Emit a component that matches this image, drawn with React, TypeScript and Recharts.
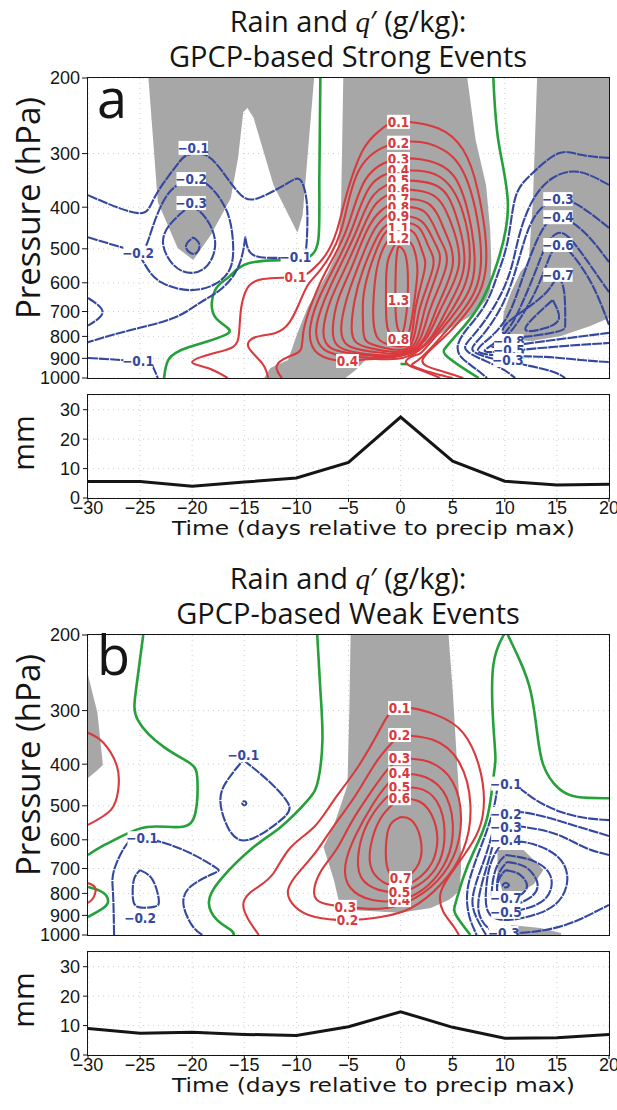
import React from "react";
import { ComposedChart, LineChart, Line, Area, Scatter, XAxis, YAxis, CartesianGrid } from "recharts";

// rain composites (mm), one value every 5 days
const days = [-30, -25, -20, -15, -10, -5, 0, 5, 10, 15, 20];
const strongRain = [5.6, 5.6, 4.0, 5.4, 6.8, 12.1, 27.5, 12.5, 5.7, 4.4, 4.7];
const weakRain = [9.0, 7.4, 7.7, 7.0, 6.6, 9.6, 14.7, 9.4, 5.7, 5.9, 7.0];

const dayTicks = [-30, -25, -20, -15, -10, -5, 0, 5, 10, 15, 20];
const pressureTicks = [200, 300, 400, 500, 600, 700, 800, 900, 1000];
const mmTicks = [0, 10, 20, 30];

// ---------- Strong events: contours of q' as [day, hPa] ----------
// shaded rain areas: [day, upper hPa, lower hPa]
const sGrayLeft = [[-24.2, 200, 200], [-23.3, 200, 389], [-21.4, 200, 498], [-19.9, 200, 531], [-18.2, 200, 464], [-16.3, 200, 381], [-15.6, 200, 307], [-15.1, 200, 240], [-14.7, 200, 235], [-14.1, 200, 248], [-12.2, 200, 355], [-9.9, 200, 459], [-9.4, 200, 417], [-8.3, 200, 200]];
const sGrayCenter = [[-13.1, 1000, 1000], [-12.5, 948, 1000], [-10.8, 908, 1000], [-9.9, 785, 1000], [-8.9, 683, 1000], [-7.0, 569, 1000], [-6.0, 503, 1000], [-5.7, 385, 1000], [-5.5, 200, 1000], [-5.3, 200, 1000], [-4.3, 200, 958], [-2.9, 200, 883], [0, 200, 860], [2.9, 200, 816], [5.8, 200, 740], [6.4, 200, 725], [7.2, 279, 702], [8.2, 355, 658], [8.6, 452, 624], [8.7, 531, 537]];
const sGrayRight = [[9.8, 752, 752], [9.9, 702, 803], [10.6, 631, 816], [11.5, 566, 816], [12.3, 537, 820], [12.7, 385, 820], [13.1, 200, 816], [15.4, 200, 798], [18.2, 200, 757], [20, 200, 725]];

const sGreen1 = [[-22.7, 1000], [-22.3, 908], [-20.3, 847], [-16.5, 785], [-17.8, 721], [-17.8, 624], [-16.5, 582], [-14.6, 540], [-10.7, 531], [-8.8, 522], [-7.9, 477], [-7.8, 346], [-7.7, 200]];
const sGreen2 = [[8.9, 200], [9.4, 282], [10.3, 395], [9.3, 537], [7.4, 687], [5.1, 807], [4.3, 851], [4.3, 883], [6.0, 948], [7.5, 1000]];
const sGreen3 = [[0, 928], [0.7, 928]];

const sRed01 = [[-16.6, 1000], [-18.5, 948], [-20.0, 918], [-18.2, 879], [-16.1, 847], [-15.5, 785], [-15.3, 687], [-14.7, 617], [-13.2, 588], [-10.1, 582], [-8.6, 563], [-7.2, 517], [-6.1, 452], [-5.2, 375], [-3.6, 294], [-1.9, 264], [-0.2, 253], [3.6, 262], [6.0, 294], [7.4, 365], [8.2, 545], [6.5, 695], [4.1, 807], [2.1, 908], [3.6, 958], [6.0, 1000]];
const sRed02 = [[-12.7, 1000], [-13.3, 923], [-14.6, 847], [-13.9, 803], [-12.0, 785], [-10.7, 744], [-9.8, 676], [-8.9, 607], [-7.7, 560], [-5.7, 452], [-4.0, 328], [-0.2, 283], [4.1, 294], [6.7, 365], [7.7, 545], [6.0, 695], [3.6, 816], [1.7, 908], [1.2, 938], [3.1, 973], [5.0, 1000]];
const sRed03 = [[-11.4, 1000], [-11.9, 938], [-10.8, 893], [-9.6, 860], [-9.3, 773], [-8.4, 658], [-7.1, 560], [-5.2, 452], [-3.4, 346], [-0.2, 309], [3.8, 319], [6.1, 381], [7.1, 545], [5.4, 695], [2.4, 851], [1.5, 883], [0.5, 918], [1.9, 958], [3.8, 1000]];
const sRed04 = [[-0.2, 328], [3.6, 338], [5.9, 406], [6.6, 545], [4.9, 695], [1.4, 874], [-2.4, 903], [-5.1, 913], [-7.9, 879], [-8.7, 773], [-7.9, 658], [-6.5, 560], [-4.7, 452], [-2.9, 357], [-0.2, 328]];
const sRed05 = [[-0.2, 346], [3.5, 357], [5.3, 417], [6.1, 545], [4.4, 695], [1.3, 869], [-4.4, 893], [-7.3, 860], [-8.1, 773], [-7.3, 658], [-6.0, 560], [-4.2, 452], [-2.6, 375], [-0.2, 346]];
const sRed06 = [[-0.2, 363], [3.1, 375], [4.8, 433], [5.6, 545], [3.8, 695], [1.2, 865], [-3.8, 883], [-6.7, 851], [-7.4, 773], [-6.7, 658], [-5.4, 560], [-3.7, 452], [-2.3, 391], [-0.2, 363]];
const sRed07 = [[-0.2, 383], [2.7, 393], [4.2, 452], [5.0, 545], [3.4, 695], [1.2, 860], [-3.3, 879], [-6.0, 842], [-6.5, 765], [-6.0, 658], [-4.8, 560], [-3.3, 457], [-1.9, 408], [-0.2, 383]];
const sRed08 = [[-0.2, 400], [2.3, 410], [3.7, 470], [4.4, 545], [2.8, 695], [1.1, 856], [-2.7, 869], [-5.1, 838], [-5.7, 765], [-5.2, 658], [-4.2, 560], [-2.8, 464], [-1.6, 424], [-0.2, 400]];
const sRed09 = [[-0.2, 420], [2.0, 431], [3.3, 485], [3.7, 545], [2.3, 695], [1.0, 851], [-2.1, 860], [-4.2, 829], [-4.7, 761], [-4.4, 658], [-3.6, 560], [-2.2, 467], [-1.3, 440], [-0.2, 420]];
const sRed10 = [[-0.2, 433], [1.7, 445], [2.7, 495], [3.1, 554], [1.8, 695], [0.9, 842], [-1.5, 851], [-3.3, 820], [-3.6, 752], [-3.6, 658], [-3.0, 560], [-1.9, 477], [-1.2, 452], [-0.2, 433]];
const sRed11 = [[-0.2, 447], [1.3, 459], [2.1, 509], [2.3, 560], [1.4, 695], [0.8, 829], [-1.0, 838], [-2.2, 807], [-2.6, 740], [-2.6, 658], [-2.3, 560], [-1.5, 490], [-0.2, 447]];
const sRed12 = [[-0.2, 472], [1.0, 485], [1.5, 525], [1.6, 575], [1.2, 695], [0.6, 807], [-0.4, 816], [-1.2, 773], [-1.4, 695], [-1.4, 607], [-1.2, 531], [-0.2, 472]];
const sRed13 = [[-0.2, 493], [0.5, 520], [0.7, 624], [0.4, 752], [0, 785], [-0.4, 740], [-0.5, 624], [-0.4, 525], [-0.2, 493]];

const sBlueTop = [[-30, 375], [-25.2, 413], [-23.6, 379], [-21.6, 322], [-20.4, 302], [-18.8, 302], [-17.2, 328], [-15.3, 375], [-13.4, 379], [-10.8, 351], [-9.6, 346], [-9.0, 391], [-9.0, 477], [-9.6, 522], [-12.0, 525], [-14.4, 511], [-14.9, 470], [-15.4, 537], [-17.1, 617], [-19.3, 669], [-21.8, 725], [-25.9, 773], [-30, 825]];
const sBlueMid = [[-30, 470], [-26.1, 501], [-25.2, 511], [-24.4, 551], [-23.0, 598], [-20.3, 624], [-17.8, 604], [-16.3, 551], [-16.1, 477], [-16.6, 413], [-17.8, 369], [-19.4, 346], [-21.4, 355], [-22.8, 389], [-23.8, 445], [-24.4, 490], [-25.0, 511]];
const sBlueIn = [[-20.1, 395], [-18.7, 424], [-17.8, 482], [-18.5, 545], [-20.1, 569], [-21.8, 545], [-22.8, 485], [-22.0, 435], [-20.1, 395]];
const sBlueCore = [[-19.9, 470], [-19.3, 490], [-19.8, 514], [-20.6, 495], [-19.9, 470]];
const sBlueEdge = [[-30, 651], [-28.6, 702], [-30, 755]];
const sBlueLow = [[-30, 898], [-25.2, 913], [-23.9, 930], [-23.3, 1000]];
const sBlueR1 = [[20, 307], [17.3, 302], [15.1, 300], [12.5, 336], [11.0, 381], [10.3, 477], [9.3, 575], [8.1, 676], [6.3, 773], [5.5, 838], [5.8, 893], [7.1, 948], [8.3, 1000]];
const sBlueR2 = [[20, 355], [17.1, 331], [14.6, 342], [12.7, 385], [11.4, 464], [10.5, 566], [9.0, 680], [7.1, 789], [6.2, 851], [7.5, 898], [9.6, 948], [11.0, 1000]];
const sBlueR3 = [[20, 447], [17.5, 402], [15.1, 383], [13.1, 413], [11.9, 477], [10.9, 575], [9.6, 687], [7.8, 798], [6.9, 860], [8.6, 898], [11.5, 928], [14.4, 963], [15.8, 1000]];
const sBlueR4 = [[20, 537], [17.6, 457], [15.1, 422], [13.6, 452], [12.5, 517], [11.4, 614], [10.1, 729], [8.3, 816], [7.5, 869], [10.1, 888], [13.9, 893], [17.3, 908], [20, 918]];
const sBlueR5 = [[20, 631], [17.3, 509], [15.4, 459], [14.0, 490], [13.0, 560], [11.8, 658], [10.6, 752], [9.0, 829], [8.2, 869], [11.5, 860], [15.8, 842], [20, 829]];
const sBlueR6 = [[20, 752], [18.4, 607], [16.5, 517], [15.1, 490], [14.1, 537], [13.0, 624], [11.5, 725], [9.9, 807], [8.9, 847], [12.5, 829], [16.8, 803], [20, 785]];
const sBlueR7 = [[15.1, 575], [15.7, 631], [15.8, 740], [14.9, 781], [11.0, 803], [9.9, 761], [12.0, 691], [14.0, 631], [15.1, 575]];
const sBlueR8 = [[14.6, 658], [15.2, 725], [13.9, 765], [12.0, 773], [13.0, 714], [14.6, 658]];

const sRedLabels: [number, number, string][] = [[-0.2, 253, "0.1"], [-0.2, 283, "0.2"], [-0.2, 309, "0.3"], [-0.2, 328, "0.4"], [-0.2, 346, "0.5"], [-0.2, 363, "0.6"], [-0.2, 383, "0.7"], [-0.2, 400, "0.8"], [-0.2, 420, "0.9"], [-0.2, 447, "1.1"], [-0.2, 472, "1.2"], [-0.2, 658, "1.3"], [-0.2, 811, "0.8"], [-10.1, 582, "0.1"], [-5.1, 913, "0.4"]];
const sBlueLabels: [number, number, string][] = [[-19.9, 291, "−0.1"], [-20.1, 344, "−0.2"], [-20.1, 391, "−0.3"], [-25.2, 511, "−0.2"], [-10.1, 522, "−0.1"], [-25.2, 913, "−0.1"], [15.1, 383, "−0.3"], [15.1, 422, "−0.4"], [15.1, 490, "−0.6"], [15.1, 575, "−0.7"], [10.4, 820, "−0.8"], [10.4, 860, "−0.5"], [10.3, 908, "−0.3"]];

// ---------- Weak events ----------
const wGrayLeft = [[-30, 248, 431], [-29.1, 303, 413], [-28.6, 395, 402]];
const wGrayCenter = [[-7.4, 624, 624], [-6.4, 554, 744], [-5.8, 503, 860], [-5.1, 447, 869], [-4.9, 283, 874], [-4.8, 200, 874], [0, 200, 888], [2.9, 200, 865], [4.6, 200, 829], [5.0, 269, 816], [5.4, 391, 798], [5.7, 511, 765], [5.8, 669, 706]];
const wGrayPatch = [[9.3, 634, 718], [9.9, 634, 816], [11.8, 634, 789], [12.8, 669, 761], [13.7, 706, 706]];
const wGrayBottom = [[10.6, 948, 1000], [13.4, 963, 1000], [15.4, 989, 1000]];

const wGreen1 = [[-24.7, 200], [-25.4, 269], [-25.2, 316], [-22.7, 365], [-20.2, 398], [-19.5, 435], [-19.7, 520], [-21.1, 560], [-24.3, 560], [-26.9, 591], [-28.8, 624], [-30, 651]];
const wGreen2 = [[-30, 773], [-28.5, 798], [-28.1, 842], [-28.8, 874], [-30, 908]];
const wGreen3 = [[-8.0, 200], [-7.7, 269], [-7.5, 351], [-7.9, 435], [-8.9, 485], [-11.5, 560], [-14.1, 624], [-17.3, 744], [-18.4, 842], [-17.6, 923], [-16.3, 973], [-16.0, 1000]];
const wGreen4 = [[20, 480], [17.0, 477], [15.1, 454], [13.7, 402], [13.1, 337], [12.5, 272], [11.5, 231], [10.3, 200], [9.9, 200], [8.9, 235], [8.9, 324], [9.1, 387], [8.9, 431], [8.3, 534], [7.0, 641], [6.0, 737], [5.3, 838], [5.3, 898], [6.7, 1000]];

const wRedEdge = [[-30, 338], [-28.5, 357], [-27.2, 406], [-27.1, 459], [-27.8, 511], [-30, 554]];
const wRedCorner = [[-30, 757], [-29.3, 777], [-29.5, 820], [-30, 842]];
const wRed01 = [[-13.6, 1000], [-15.1, 851], [-13.7, 773], [-12.2, 718], [-10.6, 627], [-8.3, 560], [-6.4, 485], [-4.1, 406], [-1.9, 329], [-0.1, 296], [3.4, 307], [6.0, 338], [7.5, 402], [8.0, 485], [7.5, 569], [6.1, 651], [4.6, 733], [3.8, 807], [4.1, 883], [5.0, 948], [5.6, 1000]];
const wRed02 = [[-0.1, 342], [3.1, 351], [5.6, 395], [6.7, 498], [6.0, 634], [3.8, 765], [1.0, 865], [-1.9, 908], [-5.1, 923], [-8.2, 908], [-10.1, 860], [-10.8, 785], [-9.6, 706], [-8.0, 634], [-6.2, 548], [-4.3, 472], [-2.2, 391], [-0.1, 342]];
const wRed03 = [[-0.1, 387], [2.7, 395], [5.0, 440], [5.8, 540], [5.0, 662], [2.9, 773], [-0.1, 851], [-2.9, 869], [-5.3, 860], [-7.5, 842], [-8.3, 798], [-7.7, 714], [-6.2, 634], [-4.6, 540], [-2.7, 459], [-1.3, 413], [-0.1, 387]];
const wRed04 = [[-0.1, 420], [2.4, 429], [4.4, 477], [5.0, 585], [4.0, 698], [2.1, 785], [-0.1, 829], [-2.7, 829], [-4.8, 777], [-5.3, 687], [-4.3, 585], [-2.7, 498], [-1.3, 447], [-0.1, 420]];
const wRed05 = [[-0.1, 452], [2.2, 459], [3.8, 506], [4.2, 601], [3.4, 698], [1.7, 765], [-0.1, 794], [-2.1, 785], [-3.8, 733], [-4.0, 634], [-3.1, 545], [-1.6, 485], [-0.1, 452]];
const wRed06 = [[-0.1, 480], [1.9, 490], [3.2, 540], [3.5, 617], [2.7, 698], [1.2, 752], [-0.1, 769], [-1.7, 752], [-2.9, 687], [-2.7, 595], [-1.7, 525], [-0.1, 480]];
const wRed07 = [[0, 531], [1.2, 545], [2.0, 617], [1.5, 698], [0, 737], [-1.2, 706], [-1.4, 617], [-1.0, 554], [0, 531]];

const wBlueMid = [[-15.1, 391], [-12.8, 435], [-10.8, 493], [-11.5, 540], [-14.7, 601], [-16.6, 560], [-17.3, 485], [-16.6, 435], [-15.1, 391]];
const wBlueDot = [[-15.0, 487], [-14.8, 493], [-15.0, 499], [-15.2, 493], [-15.0, 487]];
const wBlueLow = [[-27.5, 1000], [-27.6, 798], [-27.5, 706], [-26.2, 611], [-24.8, 595], [-23.0, 607], [-20.2, 644], [-17.8, 695], [-17.9, 718], [-20.2, 773], [-20.8, 860], [-19.9, 958], [-19.0, 1000]];
const wBlueLow2 = [[-25.0, 706], [-23.8, 744], [-23.2, 829], [-23.7, 860], [-25.2, 860], [-25.7, 816], [-25.6, 744], [-25.0, 706]];
const wBlueR1 = [[20, 540], [17.8, 534], [15.4, 517], [13.0, 485], [11.2, 452], [9.6, 440], [9.1, 485], [8.3, 569], [7.3, 662], [6.5, 765], [6.4, 851], [6.7, 923], [7.3, 1000]];
const wBlueR2 = [[20, 588], [16.8, 557], [13.9, 531], [11.5, 517], [10.1, 522], [9.1, 554], [8.4, 627], [7.5, 725], [6.9, 829], [7.3, 913], [8.2, 1000]];
const wBlueR3 = [[20, 651], [17.8, 627], [15.4, 588], [13.0, 566], [10.1, 560], [9.0, 601], [8.4, 676], [7.7, 777], [7.5, 883], [8.4, 963], [9.9, 989], [12.5, 984], [15.8, 948], [18.7, 883], [20, 851]];
const wBlueR4 = [[10.1, 601], [12.7, 614], [15.1, 658], [16.0, 733], [15.4, 820], [13.4, 888], [10.1, 923], [8.4, 883], [8.2, 785], [8.6, 687], [9.4, 627], [10.1, 601]];
const wBlueR5 = [[10.1, 651], [12.5, 669], [14.2, 714], [14.4, 785], [13.0, 851], [10.1, 883], [8.9, 851], [8.8, 765], [9.3, 687], [10.1, 651]];
const wBlueR6 = [[10.2, 676], [12.0, 695], [13.1, 752], [12.5, 816], [10.2, 856], [9.3, 807], [9.4, 725], [10.2, 676]];
const wBlueR7 = [[10.1, 706], [11.5, 725], [12.1, 777], [11.0, 820], [10.1, 829], [9.3, 794], [9.5, 737], [10.1, 706]];
const wBlueR8 = [[10.1, 755], [10.4, 765], [10.1, 775], [9.8, 765], [10.1, 755]];

const wRedLabels: [number, number, string][] = [[-0.1, 296, "0.1"], [-0.1, 342, "0.2"], [-0.1, 387, "0.3"], [-0.1, 420, "0.4"], [-0.1, 452, "0.5"], [-0.1, 480, "0.6"], [0, 737, "0.7"], [-0.1, 829, "0.4"], [-0.1, 794, "0.5"], [-5.3, 860, "0.3"], [-5.1, 923, "0.2"]];
const wBlueLabels: [number, number, string][] = [[-15.1, 381, "−0.1"], [-24.8, 595, "−0.1"], [-25.0, 913, "−0.2"], [10.1, 444, "−0.1"], [10.1, 522, "−0.2"], [10.1, 560, "−0.3"], [10.1, 601, "−0.4"], [10.1, 820, "−0.7"], [10.1, 883, "−0.5"], [9.9, 989, "−0.3"]];

const RED = "#d83a3e";
const BLUE = "#34489f";
const GREEN = "#25a03b";
const GRAY = "#a7a7a7";
const INK = "#151515";
const TICK_FONT = "'Liberation Sans', Arial, sans-serif";
const LABEL_FONT = "'Liberation Sans Narrow', 'DejaVu Sans Condensed', 'Liberation Sans', sans-serif";
const TITLE_FONT = "'Open Sans', 'Noto Sans', sans-serif";

const toPts = (a: number[][]) => a.map(([t, p]) => ({ t, p }));
const toBand = (a: number[][]) => a.map(([t, lo, hi]) => ({ t, r: [lo, hi] }));
const toLbl = (a: [number, number, string][]) => a.map(([t, p, text]) => ({ t, p, text }));
const fmtDay = (v: number) => (v < 0 ? "\u2212" + Math.abs(v) : String(v));

const tickStyle = { fontSize: 18, fill: INK, fontFamily: TICK_FONT };

const makeLabel = (color: string) => (props: any) => {
  const { cx, cy, payload } = props;
  if (cx == null || cy == null) return <g />;
  const text = String(payload.text);
  const w = text.length * 6.6 + 3;
  return (
    <g>
      <rect x={cx - w / 2} y={cy - 7} width={w} height={14} fill="#fff" />
      <text x={cx} y={cy + 5} textAnchor="middle" fontSize={13.5} fontWeight={700} fontFamily={LABEL_FONT} fill={color}>
        {text}
      </text>
    </g>
  );
};

interface PanelProps {
  top: number;
  gray: number[][][];
  green: number[][][];
  red: number[][][];
  blue: number[][][];
  redLabels: [number, number, string][];
  blueLabels: [number, number, string][];
}

function ContourPanel({ top, gray, green, red, blue, redLabels, blueLabels }: PanelProps) {
  return (
    <div style={{ position: "absolute", left: 0, top, width: 617, height: 390 }}>
      <ComposedChart width={617} height={390} margin={{ top: 78, right: 8, bottom: 12, left: 8 }}>
        <CartesianGrid strokeDasharray="1 4" stroke="#cfcfcf" />
        <XAxis type="number" dataKey="t" domain={[-30, 20]} ticks={dayTicks} hide allowDataOverflow />
        <YAxis
          type="number"
          scale="log"
          domain={[200, 1000]}
          ticks={pressureTicks}
          reversed
          allowDataOverflow
          width={80}
          axisLine={false}
          tickSize={6}
          tickMargin={2}
          interval={0}
          tick={tickStyle}
          tickLine={{ stroke: INK }}
        />
        {gray.map((g, i) => (
          <Area key={"g" + i} data={toBand(g)} dataKey="r" type="linear" stroke="none" fill={GRAY} fillOpacity={1} isAnimationActive={false} dot={false} activeDot={false} />
        ))}
        {green.map((l, i) => (
          <Line key={"gr" + i} data={toPts(l)} dataKey="p" type="natural" stroke={GREEN} strokeWidth={2.6} dot={false} activeDot={false} isAnimationActive={false} />
        ))}
        {red.map((l, i) => (
          <Line key={"r" + i} data={toPts(l)} dataKey="p" type="natural" stroke={RED} strokeWidth={2.1} dot={false} activeDot={false} isAnimationActive={false} />
        ))}
        {blue.map((l, i) => (
          <Line key={"b" + i} data={toPts(l)} dataKey="p" type="natural" stroke={BLUE} strokeWidth={2.1} strokeDasharray="10 1" dot={false} activeDot={false} isAnimationActive={false} />
        ))}
        <Scatter data={toLbl(redLabels)} dataKey="p" shape={makeLabel(RED)} isAnimationActive={false} />
        <Scatter data={toLbl(blueLabels)} dataKey="p" shape={makeLabel(BLUE)} isAnimationActive={false} />
      </ComposedChart>
      <div style={{ position: "absolute", left: 87, top: 77, width: 523, height: 302, border: "1.5px solid " + INK, boxSizing: "border-box" }} />
    </div>
  );
}

function RainPanel({ top, values }: { top: number; values: number[] }) {
  const data = days.map((t, i) => ({ t, mm: values[i] }));
  return (
    <div style={{ position: "absolute", left: 0, top, width: 617, height: 170 }}>
      <LineChart width={617} height={170} data={data} margin={{ top: 15, right: 8, bottom: 0, left: 8 }}>
        <CartesianGrid strokeDasharray="1 4" stroke="#cfcfcf" />
        <XAxis
          type="number"
          dataKey="t"
          domain={[-30, 20]}
          ticks={dayTicks}
          interval={0}
          allowDataOverflow
          height={52}
          axisLine={false}
          tickSize={4}
          tickMargin={-1}
          tickFormatter={fmtDay}
          tick={tickStyle}
          tickLine={{ stroke: INK }}
        />
        <YAxis
          type="number"
          domain={[0, 35]}
          ticks={mmTicks}
          interval={0}
          allowDataOverflow
          width={80}
          axisLine={false}
          tickSize={5}
          tickMargin={3}
          tick={tickStyle}
          tickLine={{ stroke: INK }}
        />
        <Line dataKey="mm" type="linear" stroke={INK} strokeWidth={3} dot={false} activeDot={false} isAnimationActive={false} />
      </LineChart>
      <div style={{ position: "absolute", left: 87, top: 14, width: 523, height: 105, border: "1.5px solid " + INK, boxSizing: "border-box" }} />
    </div>
  );
}

function Texts({ dy, kind, letter }: { dy: number; kind: string; letter: string }) {
  return (
    <g>
      <text x={348} y={32 + dy} textAnchor="middle" fontFamily={TITLE_FONT} fontSize={29} fill={INK}>
        Rain and <tspan fontFamily="'Liberation Serif', serif" fontStyle="italic">q</tspan>′ (g/kg):
      </text>
      <text x={348} y={67 + dy} textAnchor="middle" fontFamily={TITLE_FONT} fontSize={29} fill={INK}>
        {"GPCP-based " + kind + " Events"}
      </text>
      <text x={97} y={118 + dy} fontFamily={TITLE_FONT} fontSize={54} fill={INK}>
        {letter}
      </text>
      <text transform={`translate(40,${208 + dy}) rotate(-90)`} textAnchor="middle" fontFamily={TITLE_FONT} fontSize={33} fill={INK}>
        Pressure (hPa)
      </text>
      <text transform={`translate(34,${443 + dy}) rotate(-90)`} textAnchor="middle" fontFamily={TITLE_FONT} fontSize={30} fill={INK}>
        mm
      </text>
      <text x={172} y={535 + dy} fontFamily="'DejaVu Sans', sans-serif" fontSize={19} fill={INK} textLength={403} lengthAdjust="spacingAndGlyphs">
        Time (days relative to precip max)
      </text>
    </g>
  );
}

export default function App() {
  const strong: PanelProps = {
    top: 0,
    gray: [sGrayLeft, sGrayCenter, sGrayRight],
    green: [sGreen1, sGreen2, sGreen3],
    red: [sRed01, sRed02, sRed03, sRed04, sRed05, sRed06, sRed07, sRed08, sRed09, sRed10, sRed11, sRed12, sRed13],
    blue: [sBlueTop, sBlueMid, sBlueIn, sBlueCore, sBlueEdge, sBlueLow, sBlueR1, sBlueR2, sBlueR3, sBlueR4, sBlueR5, sBlueR6, sBlueR7, sBlueR8],
    redLabels: sRedLabels,
    blueLabels: sBlueLabels,
  };
  const weak: PanelProps = {
    top: 557,
    gray: [wGrayLeft, wGrayCenter, wGrayPatch, wGrayBottom],
    green: [wGreen1, wGreen2, wGreen3, wGreen4],
    red: [wRedEdge, wRedCorner, wRed01, wRed02, wRed03, wRed04, wRed05, wRed06, wRed07],
    blue: [wBlueMid, wBlueDot, wBlueLow, wBlueLow2, wBlueR1, wBlueR2, wBlueR3, wBlueR4, wBlueR5, wBlueR6, wBlueR7, wBlueR8],
    redLabels: wRedLabels,
    blueLabels: wBlueLabels,
  };
  return (
    <div style={{ position: "absolute", left: 0, top: 0, width: 617, height: 1110, background: "#fff", overflow: "hidden" }}>
      <ContourPanel {...strong} />
      <RainPanel top={380} values={strongRain} />
      <ContourPanel {...weak} />
      <RainPanel top={937} values={weakRain} />
      <svg width={617} height={1110} style={{ position: "absolute", left: 0, top: 0, pointerEvents: "none" }}>
        <Texts dy={0} kind="Strong" letter="a" />
        <Texts dy={557} kind="Weak" letter="b" />
      </svg>
    </div>
  );
}
